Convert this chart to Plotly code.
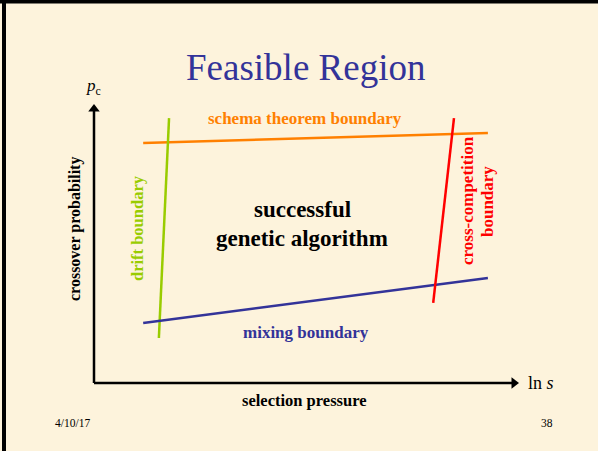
import plotly.graph_objects as go

# ---- data (conceptual units: x = ln s, y = crossover probability p_c) ----
boundary_names = ["schema theorem boundary", "drift boundary", "mixing boundary", "cross-competition boundary"]
schema_x = [1.16, 9.29]
schema_y = [0.863, 0.899]
drift_x = [1.77, 1.53]
drift_y = [0.953, 0.162]
mixing_x = [1.16, 9.29]
mixing_y = [0.216, 0.378]
cross_x = [8.49, 8.0]
cross_y = [0.953, 0.288]

BG = "#fdf3dc"
SERIF = "Liberation Serif"

# pixel mapping: ln s 0 -> px 94, 10 -> px 518 ; pc 0 -> py 383, 1 -> py 105
sx = (518 - 94) / 10.0
sy = (383 - 105) / 1.0
xr = [-94 / sx, (598 - 94) / sx]
yr = [-(451 - 383) / sy, 383 / sy]

def px(v):
    return (v - 94) / sx

def py(v):
    return (383 - v) / sy

fig = go.Figure()

series = [
    (schema_x, schema_y, "#ff8000"),
    (drift_x, drift_y, "#99cc00"),
    (mixing_x, mixing_y, "#333399"),
    (cross_x, cross_y, "#ff0000"),
]
for (xs, ys, c), name in zip(series, boundary_names):
    fig.add_trace(go.Scatter(x=xs, y=ys, mode="lines", name=name,
                             line=dict(color=c, width=2.5), showlegend=False,
                             hoverinfo="skip"))

# axes (arrows)
fig.add_shape(type="line", x0=0, y0=0, x1=px(512), y1=0, line=dict(color="black", width=2.5))
fig.add_shape(type="line", x0=0, y0=0, x1=0, y1=py(110), line=dict(color="black", width=2.5))
fig.add_trace(go.Scatter(x=[px(514)], y=[0], mode="markers", hoverinfo="skip",
                         marker=dict(symbol="triangle-right", size=10, color="black", line=dict(width=0))))
fig.add_trace(go.Scatter(x=[0], y=[py(109)], mode="markers", hoverinfo="skip",
                         marker=dict(symbol="triangle-up", size=10, color="black", line=dict(width=0))))

def txt(x, y, s, size, color="black", angle=0, bold=False):
    fig.add_annotation(x=px(x), y=py(y), xref="x", yref="y", text=(f"<b>{s}</b>" if bold else s),
                       showarrow=False, textangle=angle,
                       font=dict(family=SERIF, size=size, color=color))

txt(305, 67, "Feasible Region", 37, "#333399")
txt(93, 87, "<i>p</i><sub>c</sub>", 17)
txt(541, 383, "ln <i>s</i>", 18)
txt(305, 118, "schema theorem boundary", 17, "#ff8000", bold=True)
txt(75, 229, "crossover probability", 16, "black", angle=-90, bold=True)
txt(137, 228, "drift boundary", 16.5, "#99cc00", angle=-90, bold=True)
txt(302, 209, "successful", 23, bold=True)
txt(302, 238, "genetic algorithm", 23, bold=True)
txt(467, 201, "cross-competition", 17, "#ff0000", angle=-90, bold=True)
txt(487, 202, "boundary", 17, "#ff0000", angle=-90, bold=True)
txt(306, 332, "mixing boundary", 17, "#333399", bold=True)
txt(304, 400, "selection pressure", 16.5, bold=True)
txt(72, 423, "4/10/17", 11.5)
txt(547, 423, "38", 11.5)

# slide border (top and left)
fig.add_shape(type="rect", xref="paper", yref="paper", x0=0, x1=1, y0=1 - 3.5 / 451, y1=1,
              fillcolor="black", line=dict(width=0))
fig.add_shape(type="rect", xref="paper", yref="paper", x0=2 / 598, x1=6 / 598, y0=0, y1=1,
              fillcolor="black", line=dict(width=0))

fig.update_layout(
    width=598, height=451,
    margin=dict(l=0, r=0, t=0, b=0),
    paper_bgcolor=BG, plot_bgcolor=BG,
    xaxis=dict(range=xr, visible=False, fixedrange=True),
    yaxis=dict(range=yr, visible=False, fixedrange=True),
    showlegend=False,
)

fig.write_html("out.html", config={"displayModeBar": False},
               post_script="document.body.style.margin='0px';document.body.style.background='" + BG + "';")
